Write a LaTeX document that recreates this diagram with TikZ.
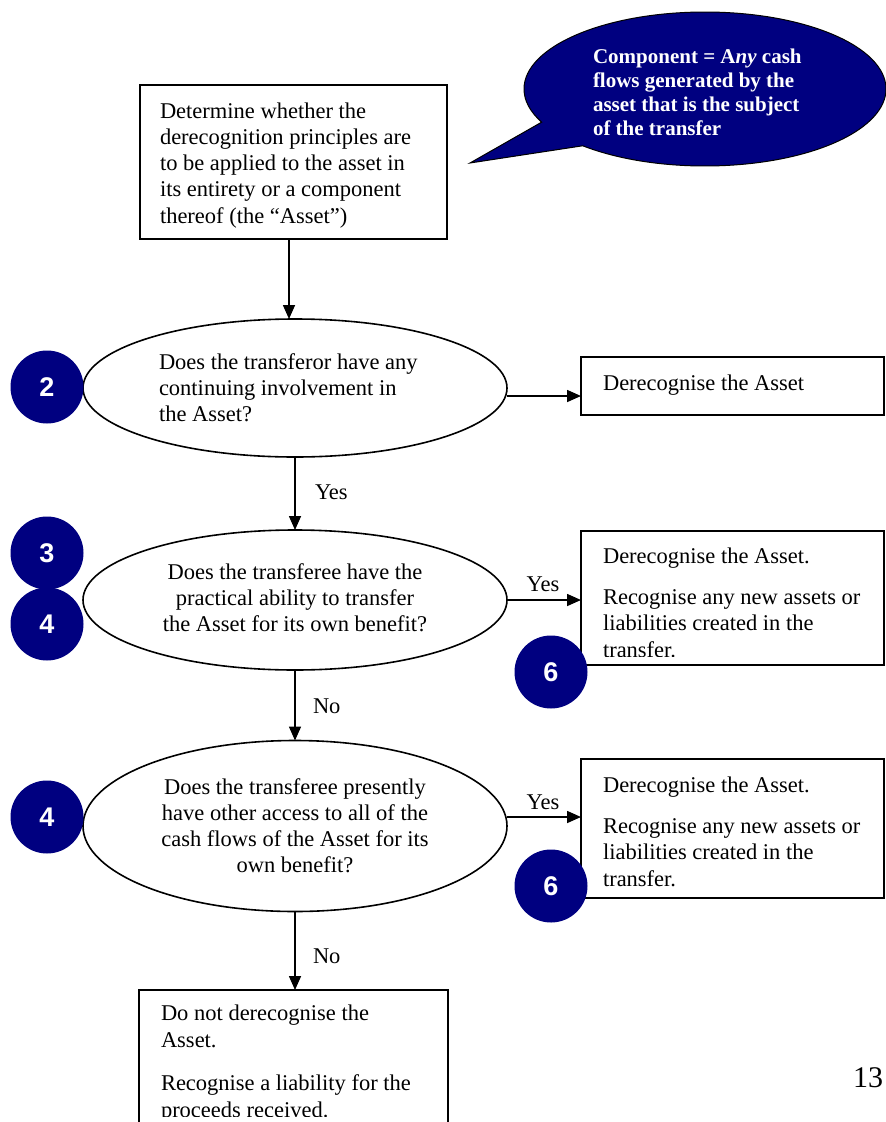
\documentclass[tikz,border=0pt]{standalone}
\usepackage{fontspec}
\setmainfont{Liberation Serif}
\newfontfamily\numfont{Liberation Sans}
\usetikzlibrary{arrows.meta,shapes.geometric,shapes.callouts}
\definecolor{navyblue}{RGB}{0,0,128}
\tikzset{
  every node/.style={inner sep=0pt, outer sep=0pt},
  bodytxt/.style={font=\fontsize{22.5}{26}\selectfont, text=black},
  boxtxt/.style={font=\fontsize{22.5}{26.5}\selectfont, text=black, align=left, anchor=north west},
  leftbody/.style={bodytxt, align=left, anchor=north west},
  centbody/.style={bodytxt, align=center, anchor=north},
  stepbox/.style={draw=black, line width=1.6pt, rectangle, anchor=north west},
  question/.style={draw=black, line width=1.6pt, ellipse},
  arr/.style={line width=1.6pt, -{Triangle[length=14pt,width=12pt]}},
  badge/.style={circle, fill=navyblue, minimum size=73pt, text=white,
    font=\numfont\bfseries\fontsize{27}{27}\selectfont},
  lbl/.style={font=\fontsize{22.5}{26}\selectfont, anchor=base west}
}
\begin{document}
\begin{tikzpicture}[x=1pt,y=-1pt]
\clip (0,0) rectangle (886,1122);
\fill[white] (0,0) rectangle (886,1122);

% speech bubble
\node[ellipse callout, draw=black, line width=1pt, fill=navyblue,
  minimum width=362pt, minimum height=154pt,
  callout absolute pointer={(470,163)}, callout pointer arc=22] (bubble) at (705,89) {};
\node[anchor=north west, align=left, text=white,
  font=\bfseries\fontsize{21}{24}\selectfont] (bubbletxt) at (593,46.2)
  {\strut Component = A\textit{ny} cash\\ flows generated by the\\ asset that is the subject\\ of the transfer};

% top box
\node[stepbox, minimum width=307pt, minimum height=154pt] (det) at (140,85) {};
\node[boxtxt, font=\fontsize{22.5}{26.3}\selectfont] (dettxt) at (160,99.6) {\strut Determine whether the\\ derecognition principles are\\ to be applied to the asset in\\ its entirety or a component\\ thereof (the “Asset”)};

% question 1
\node[question, minimum width=424pt, minimum height=138pt] (q1) at (295,388) {};
\node[leftbody] (q1txt) at (159,351.1) {\strut Does the transferor have any\\ continuing involvement in\\ the Asset?};

% box 1
\node[stepbox, minimum width=303pt, minimum height=58pt] (b1) at (581,357) {};
\node[boxtxt] (b1txt) at (603,371.9) {\strut Derecognise the Asset};

% question 2
\node[question, minimum width=424pt, minimum height=140pt] (q2) at (295,600) {};
\node[centbody] (q2txt) at (295,561.6) {\strut Does the transferee have the\\ practical ability to transfer\\ the Asset for its own benefit?};

% box 2
\node[stepbox, minimum width=303pt, minimum height=134pt] (b2) at (581,531) {};
\begin{scope}
\clip (581,531) rectangle (884,656);
\node[boxtxt] (b2txt) at (603,544.5) {\strut Derecognise the Asset.\\[14.5pt] Recognise any new assets or\\ liabilities created in the\\ transfer.};
\end{scope}

% question 3
\node[question, minimum width=424pt, minimum height=171pt] (q3) at (295,826) {};
\node[centbody] (q3txt) at (295,776.6) {\strut Does the transferee presently\\ have other access to all of the\\ cash flows of the Asset for its\\ own benefit?};

% box 3
\node[stepbox, minimum width=303pt, minimum height=139pt] (b3) at (581,759) {};
\node[boxtxt] (b3txt) at (603,773.9) {\strut Derecognise the Asset.\\[14.5pt] Recognise any new assets or\\ liabilities created in the\\ transfer.};

% box 4
\node[stepbox, minimum width=309pt, minimum height=160pt] (b4) at (139,990) {};
\begin{scope}
\clip (139,990) rectangle (448,1116);
\node[boxtxt] (b4txt) at (161,1002.4) {\strut Do not derecognise the\\ Asset.\\[17pt] Recognise a liability for the\\ proceeds received.};
\end{scope}

% connectors
\draw[arr] (det.south -| 289,0) -- (289,0 |- q1.north);
\draw[arr] ([yshift=-8pt]q1.east) -- ([yshift=-8pt]q1.east -| b1.west);
\draw[arr] (q1.south) -- (q2.north);
\node[lbl] (yes1) at (315,499) {Yes};
\draw[arr] (q2.east) -- (q2.east -| b2.west);
\node[lbl, anchor=base] (yes2) at (543,591) {Yes};
\draw[arr] (q2.south) -- (q3.north);
\node[lbl] (no1) at (313,713) {No};
\draw[arr] ([yshift=9pt]q3.east) -- ([yshift=9pt]q3.east -| b3.west);
\node[lbl, anchor=base] (yes3) at (543,809) {Yes};
\draw[arr] (q3.south) -- (q3.south |- b4.north);
\node[lbl] (no2) at (313,963) {No};

% badges
\node[badge] (c2) at (47,387) {2};
\node[badge] (c3) at (47,553) {3};
\node[badge] (c4a) at (47,624) {4};
\node[badge] (c6a) at (551,672) {6};
\node[badge] (c4b) at (47,817) {4};
\node[badge] (c6b) at (551,886) {6};

% page number
\node[anchor=base west, font=\fontsize{30}{30}\selectfont] (pagenum) at (853,1087) {13};
\end{tikzpicture}
\end{document}
